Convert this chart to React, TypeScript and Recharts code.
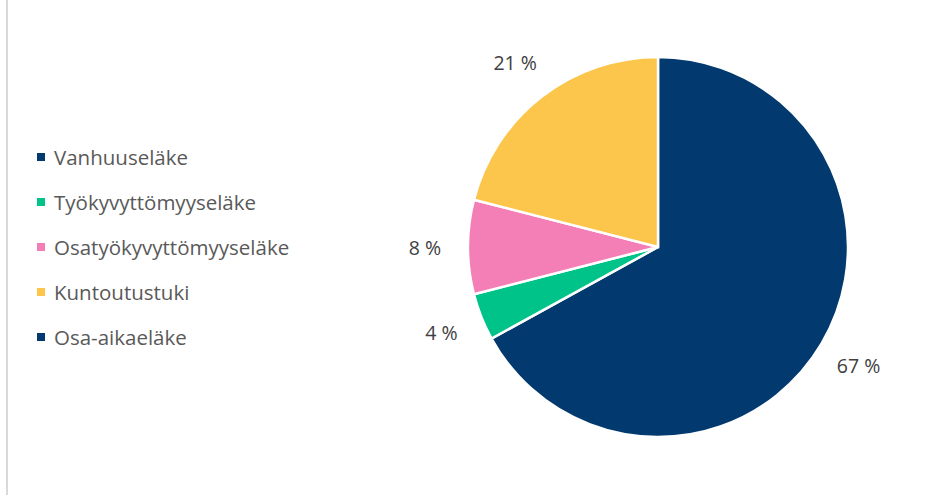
import { PieChart, Pie, Cell } from "recharts";

// Eläkelajit ja osuudet (%)
const categories = [
  "Vanhuuseläke",
  "Työkyvyttömyyseläke",
  "Osatyökyvyttömyyseläke",
  "Kuntoutustuki",
  "Osa-aikaeläke",
];
const shares = [67, 4, 8, 21, 0];
const colors = ["#023A6F", "#00C389", "#F47FB6", "#FCC64C", "#023A6F"];

const data = categories.map((name, i) => ({ name, value: shares[i] }));

const FONT = "'Open Sans', 'Noto Sans', sans-serif";
const RAD = Math.PI / 180;

const renderLabel = (props: any) => {
  const { cx, cy, midAngle, outerRadius, value } = props;
  if (!value) return null;
  const r = outerRadius + 43;
  const x = cx + r * Math.cos(-midAngle * RAD);
  const y = cy + r * Math.sin(-midAngle * RAD);
  return (
    <text
      x={x}
      y={y}
      fill="#404040"
      fontSize={19.5}
      fontFamily={FONT}
      textAnchor="middle"
      dominantBaseline="central"
    >
      {`${value} %`}
    </text>
  );
};

export default function App() {
  return (
    <div
      style={{
        position: "absolute",
        left: 0,
        top: 0,
        width: 952,
        height: 495,
        background: "#fff",
      }}
    >
      <div
        style={{
          position: "absolute",
          left: 6,
          top: 0,
          width: 2,
          height: 495,
          background: "#D9D9D9",
        }}
      />
      <div
        style={{
          position: "absolute",
          left: 37,
          top: 134,
          fontFamily: FONT,
        }}
      >
        {categories.map((name, i) => (
          <div
            key={name}
            style={{ display: "flex", alignItems: "center", height: 45 }}
          >
            <span
              style={{
                width: 8,
                height: 8,
                background: colors[i],
                marginRight: 9,
                display: "inline-block",
              }}
            />
            <span style={{ fontSize: 20.5, color: "#595959" }}>{name}</span>
          </div>
        ))}
      </div>
      <PieChart
        width={952}
        height={495}
        margin={{ top: 0, right: 0, bottom: 0, left: 0 }}
        style={{ position: "absolute", left: 0, top: 0 }}
      >
        <Pie
          data={data}
          dataKey="value"
          nameKey="name"
          cx={658}
          cy={247}
          outerRadius={190}
          startAngle={90}
          endAngle={-270}
          stroke="#fff"
          strokeWidth={2.5}
          label={renderLabel}
          labelLine={false}
          isAnimationActive={false}
        >
          {data.map((d, i) => (
            <Cell key={d.name} fill={colors[i]} />
          ))}
        </Pie>
      </PieChart>
    </div>
  );
}
